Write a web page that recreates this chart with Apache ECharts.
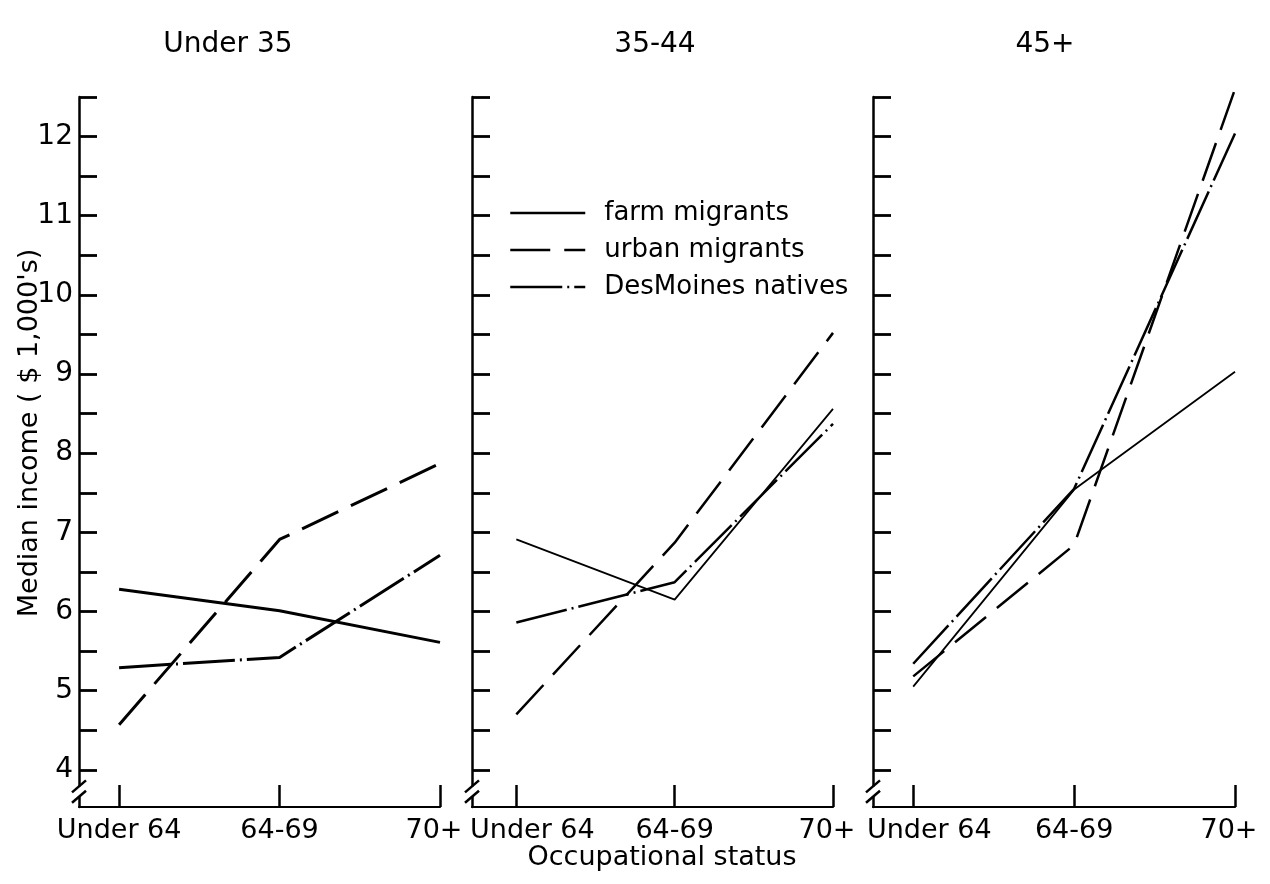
<!DOCTYPE html>
<html><head><meta charset="utf-8">
<script src="https://cdn.jsdelivr.net/npm/echarts@6/dist/echarts.min.js"></script>
<style>html,body{margin:0;padding:0;background:#fff}#c{width:1270px;height:884px}</style>
</head><body><div id="c"></div>
<script>
// ---- data ----
const categories = ['Under 64', '64-69', '70+'];
const panelTitles = ['Under 35', '35-44', '45+'];
const seriesNames = ['farm migrants', 'urban migrants', 'DesMoines natives'];
const yTickLabels = [4, 5, 6, 7, 8, 9, 10, 11, 12];
const yTicks = [4, 4.5, 5, 5.5, 6, 6.5, 7, 7.5, 8, 8.5, 9, 9.5, 10, 10.5, 11, 11.5, 12, 12.5];

const farmUnder35    = [6.28, 6.01, 5.61];
const urbanUnder35   = [4.57, 6.91, 7.87];
const nativesUnder35 = [5.29, 5.42, 6.71];

const farm35to44    = [6.91, 6.15, 8.56];
const urban35to44   = [4.70, 6.87, 9.52];
const natives35to44 = [5.86, 6.37, 8.37];

const farm45plus    = [5.05, 7.54, 9.03];
const urban45plus   = [5.18, 6.84, 12.6];
const natives45plus = [5.34, 7.55, 12.04];

const panelData = [
  [farmUnder35, urbanUnder35, nativesUnder35],
  [farm35to44, urban35to44, natives35to44],
  [farm45plus, urban45plus, natives45plus]
];

// ---- layout / style ----
const FONT = 'DejaVu Sans';
const gridLeft = [79, 472, 873];
const gridWidth = [361, 361, 362];
const xMin = [-0.25, -0.28, -0.25];
const gridTop = 97, gridHeight = 710;
const yMin = 3.53, yMax = 12.5;
const dashStyles = ['solid', [40, 14], [52, 5, 2, 5]];
const widthsByPanel = [[3, 3, 3], [1.8, 2.5, 2.5], [1.8, 2.5, 2.5]];

const chart = echarts.init(document.getElementById('c'), null, {renderer: 'canvas'});

const grids = [], xAxes = [], yAxes = [], series = [];
for (let p = 0; p < 3; p++) {
  grids.push({left: gridLeft[p], width: gridWidth[p], top: gridTop, height: gridHeight, containLabel: false});
  xAxes.push({
    type: 'value', gridIndex: p, min: xMin[p], max: 2,
    axisLine: {show: true, onZero: false, lineStyle: {color: '#000', width: 2.2}},
    axisTick: {show: true, inside: true, length: 22, customValues: [0, 1, 2], lineStyle: {color: '#000', width: 2.5}},
    axisLabel: {
      show: true, customValues: [0, 1, 2], color: '#000', fontFamily: FONT, fontSize: 27, margin: 10,
      formatter: v => {
        const i = Math.round(v);
        if (i === 2) return '{e|' + categories[i] + '}';
        if (i === 0 && p > 0) return '{s|' + categories[i] + '}';
        return categories[i];
      },
      rich: {
        e: {fontFamily: FONT, fontSize: 27, color: '#000', padding: [0, 12, 0, 0]},
        s: {fontFamily: FONT, fontSize: 27, color: '#000', padding: [0, 0, 0, 32]}
      }
    },
    splitLine: {show: false}
  });
  yAxes.push({
    type: 'value', gridIndex: p, min: yMin, max: yMax,
    axisLine: {show: true, onZero: false, lineStyle: {color: '#000', width: 2.5}},
    axisTick: {show: true, inside: true, length: 18, customValues: yTicks, lineStyle: {color: '#000', width: 2.8}},
    axisLabel: {show: p === 0, customValues: yTickLabels, color: '#000', fontFamily: FONT, fontSize: 28, margin: 6},
    splitLine: {show: false}
  });
  for (let s = 0; s < 3; s++) {
    series.push({
      type: 'line', name: seriesNames[s], xAxisIndex: p, yAxisIndex: p,
      data: panelData[p][s].map((v, i) => [i, v]),
      symbol: 'none', clip: false, silent: true, animation: false,
      itemStyle: {color: '#000'},
      lineStyle: {color: '#000', width: widthsByPanel[p][s], type: dashStyles[s]}
    });
  }
}

const textEl = (text, x, y, size, rot) => ({
  type: 'text', x: x, y: y, rotation: rot || 0, silent: true,
  style: {text: text, fill: '#000', font: size + 'px "' + FONT + '"', textAlign: 'center', textVerticalAlign: 'middle'}
});

chart.setOption({
  backgroundColor: '#fff',
  animation: false,
  grid: grids, xAxis: xAxes, yAxis: yAxes, series: series,
  legend: {
    show: true, orient: 'vertical', left: 509, top: 200, padding: 0,
    itemWidth: 75, itemHeight: 20, itemGap: 11,
    data: seriesNames,
    selectedMode: false,
    itemStyle: {opacity: 0},
    lineStyle: {width: 2.5},
    textStyle: {color: '#000', fontFamily: FONT, fontSize: 26, padding: [0, 0, 0, 14]}
  }
});

// titles, axis names, axis-break marks
const gfx = [
  textEl(panelTitles[0], 228, 45, 28),
  textEl(panelTitles[1], 655, 45, 28),
  textEl(panelTitles[2], 1045, 45, 28),
  textEl("Median income ( $ 1,000's)", 30, 433, 27, Math.PI / 2),
  textEl('Occupational status', 662, 858, 27)
];
for (let p = 0; p < 3; p++) {
  const a = chart.convertToPixel({gridIndex: p}, [xMin[p], 3.79]);
  const b = chart.convertToPixel({gridIndex: p}, [xMin[p], 3.66]);
  const x = a[0];
  gfx.push({type: 'rect', shape: {x: x - 4, y: a[1], width: 8, height: b[1] - a[1]}, style: {fill: '#fff'}, silent: true, z: 100});
  gfx.push({type: 'line', shape: {x1: x - 7, y1: a[1] + 6, x2: x + 7, y2: a[1] - 6}, style: {stroke: '#000', lineWidth: 2.5}, silent: true, z: 101});
  gfx.push({type: 'line', shape: {x1: x - 7, y1: b[1] + 6, x2: x + 7, y2: b[1] - 6}, style: {stroke: '#000', lineWidth: 2.5}, silent: true, z: 101});
}
chart.setOption({graphic: gfx});
</script></body></html>
